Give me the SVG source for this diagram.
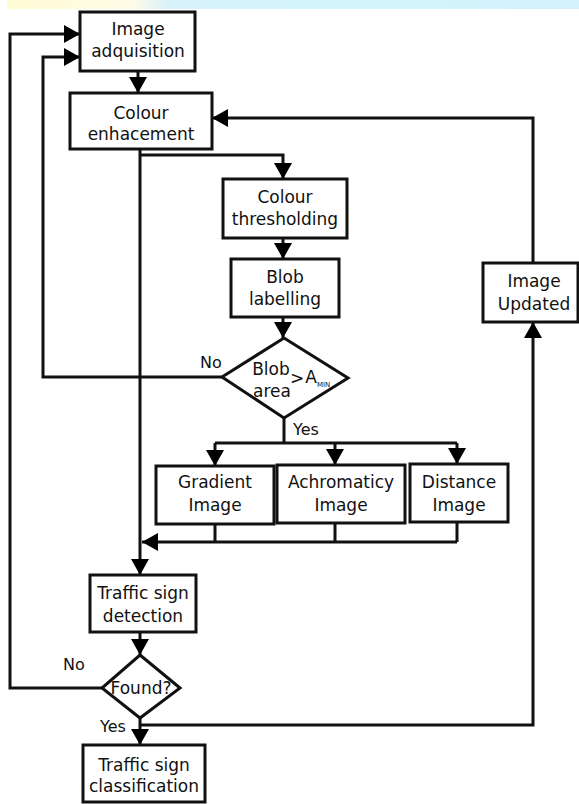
<svg xmlns="http://www.w3.org/2000/svg" width="579" height="804" viewBox="0 0 579 804">
<defs>
<linearGradient id="band" x1="0" y1="0" x2="1" y2="0">
<stop offset="0" stop-color="#fffcd4"/>
<stop offset="0.22" stop-color="#fffbe6"/>
<stop offset="0.28" stop-color="#d8f2fa"/>
<stop offset="0.6" stop-color="#d2f6fb"/>
<stop offset="1" stop-color="#d4f0fb"/>
</linearGradient>
<marker id="arr" viewBox="0 0 16 18" refX="16" refY="9" markerWidth="16" markerHeight="18" markerUnits="userSpaceOnUse" orient="auto">
<path d="M0,0 L16,9 L0,18 z" fill="#000"/>
</marker>
<style>
.box{fill:#fff;stroke:#111;stroke-width:3}
.t{font-family:"DejaVu Sans",sans-serif;font-size:17px;fill:#111;text-anchor:middle}
.lbl{font-family:"DejaVu Sans",sans-serif;font-size:16px;fill:#111}
.c{fill:none;stroke:#111;stroke-width:3}
.a{marker-end:url(#arr)}
</style>
</defs>
<rect x="7" y="0" width="572" height="9" fill="url(#band)"/>

<g id="connectors">
<path class="c a" d="M138,71 V93"/>
<path class="c a" d="M140,149 V575"/>
<path class="c a" d="M140,155 H283 V179"/>
<path class="c a" d="M283,238 V259"/>
<path class="c a" d="M283,317 V338"/>
<path class="c a" d="M222,377 H43 V57 H80"/>
<path class="c" d="M284,418 V443 M215,443 H457"/>
<path class="c a" d="M215,443 V466"/>
<path class="c a" d="M335,443 V465"/>
<path class="c a" d="M457,443 V464"/>
<path class="c" d="M215,524 V542 M335,523 V542 M457,522 V542"/>
<path class="c a" d="M457,542 H142"/>
<path class="c a" d="M140,632 V655"/>
<path class="c a" d="M102,688 H10 V34 H80"/>
<path class="c a" d="M140,718 V745"/>
<path class="c a" d="M140,725 H533 V322"/>
<path class="c a" d="M533,263 V118 H212"/>
<text class="lbl" x="200" y="368">No</text>
<text class="lbl" x="293" y="435">Yes</text>
<text class="lbl" x="63" y="670">No</text>
<text class="lbl" x="100" y="732">Yes</text>
</g>

<g id="image-adquisition">
<rect class="box" x="80" y="12" width="115" height="59"/>
<text class="t" x="138" y="35">Image</text>
<text class="t" x="138" y="57">adquisition</text>
</g>

<g id="colour-enhacement">
<rect class="box" x="70" y="93" width="142" height="56"/>
<text class="t" x="141" y="119">Colour</text>
<text class="t" x="141" y="140">enhacement</text>
</g>

<g id="colour-thresholding">
<rect class="box" x="223" y="179" width="124" height="59"/>
<text class="t" x="285" y="203">Colour</text>
<text class="t" x="285" y="225">thresholding</text>
</g>

<g id="blob-labelling">
<rect class="box" x="231" y="259" width="108" height="58"/>
<text class="t" x="285" y="283">Blob</text>
<text class="t" x="285" y="305">labelling</text>
</g>

<g id="blob-area">
<polygon class="box" points="284,338 348,378 284,418 222,377"/>
<text class="t" x="271" y="375">Blob</text>
<text class="t" x="272" y="397">area</text>
<text class="t" x="297" y="384">&gt;</text>
<text class="t" x="311" y="383">A</text>
<text x="317" y="387" style="font-family:'DejaVu Sans',sans-serif;font-size:7px;fill:#111">MIN</text>
</g>

<g id="gradient-image">
<rect class="box" x="156" y="466" width="118" height="58"/>
<text class="t" x="215" y="488">Gradient</text>
<text class="t" x="215" y="511">Image</text>
</g>

<g id="achromaticy-image">
<rect class="box" x="277" y="465" width="128" height="58"/>
<text class="t" x="341" y="488">Achromaticy</text>
<text class="t" x="341" y="511">Image</text>
</g>

<g id="distance-image">
<rect class="box" x="410" y="464" width="98" height="58"/>
<text class="t" x="459" y="488">Distance</text>
<text class="t" x="459" y="511">Image</text>
</g>

<g id="image-updated">
<rect class="box" x="483" y="263" width="95" height="59"/>
<text class="t" x="534" y="287">Image</text>
<text class="t" x="534" y="310">Updated</text>
</g>

<g id="traffic-sign-detection">
<rect class="box" x="90" y="575" width="106" height="57"/>
<text class="t" x="143" y="599">Traffic sign</text>
<text class="t" x="143" y="622">detection</text>
</g>

<g id="found">
<polygon class="box" points="140,655 180,688 140,718 102,688"/>
<text class="t" x="141" y="694">Found?</text>
</g>

<g id="traffic-sign-classification">
<rect class="box" x="83" y="745" width="122" height="57"/>
<text class="t" x="144" y="771">Traffic sign</text>
<text class="t" x="144" y="792">classification</text>
</g>
</svg>
